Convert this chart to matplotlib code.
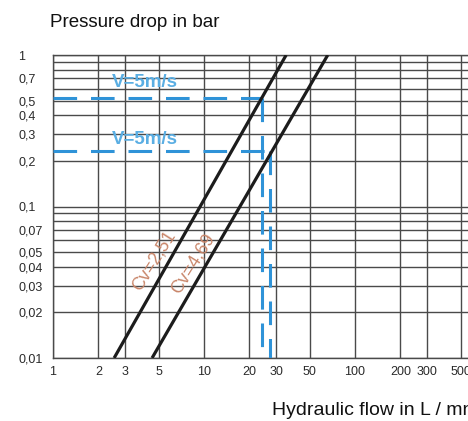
import matplotlib
matplotlib.use("Agg")
import matplotlib.pyplot as plt
import numpy as np

plt.rcParams['font.family'] = ['Liberation Sans', 'DejaVu Sans']
plt.rcParams['lines.scale_dashes'] = False

# Data
cv_labels = ["Cv=2,51", "Cv=4,69"]
cv_flow = [[2.54, 35.0], [4.53, 66.0]]          # L/mn at the two ends
cv_dp = [[0.01, 1.0], [0.01, 1.0]]              # bar
cv_label_pos = [(4.7, 0.044), (8.4, 0.042)]

v_label = "V=5m/s"
v_dp = [0.52, 0.233]      # bar (horizontal dashed)
v_flow = [24.2, 27.4]     # L/mn (vertical dashed)
v_label_pos = [(2.45, 0.66), (2.45, 0.275)]

x_ticks = [1, 2, 3, 5, 10, 20, 30, 50, 100, 200, 300, 500]
x_ticklabels = ["1", "2", "3", "5", "10", "20", "30", "50", "100", "200", "300", "500"]
y_labeled = [1, 0.7, 0.5, 0.4, 0.3, 0.2, 0.1, 0.07, 0.05, 0.04, 0.03, 0.02, 0.01]
y_labeled_txt = ["1", "0,7", "0,5", "0,4", "0,3", "0,2", "0,1", "0,07", "0,05", "0,04", "0,03", "0,02", "0,01"]

fig = plt.figure(figsize=(4.68, 4.21), dpi=100)
ax = fig.add_axes([53/468, 63/421, 1 - 53/468, 303/421])
ax.set_xscale('log')
ax.set_yscale('log')
ax.set_xlim(1, 560)
ax.set_ylim(0.01, 1)

grid_c = '#4a4a4a'
# y grid at every 1..9 multiple
y_all = sorted(set([round(m * 10.0**e, 4) for e in (-2, -1) for m in range(1, 10)] + [1.0]))
ax.set_yticks(y_all)
lbl_map = dict(zip([round(v, 4) for v in y_labeled], y_labeled_txt))
ax.set_yticklabels([lbl_map.get(round(v, 4), "") for v in y_all])
ax.yaxis.set_minor_locator(matplotlib.ticker.NullLocator())
ax.set_xticks(x_ticks)
ax.set_xticklabels(x_ticklabels)
ax.xaxis.set_minor_locator(matplotlib.ticker.NullLocator())

ax.grid(True, which='major', color=grid_c, linewidth=1.0)
ax.tick_params(axis='both', length=0, labelsize=9, colors='#2a2a2a')
ax.tick_params(axis='y', pad=25)
for t in ax.get_yticklabels():
    t.set_horizontalalignment('left')
ax.tick_params(axis='x', pad=6)

for s in ['left', 'bottom', 'top']:
    ax.spines[s].set_color(grid_c)
    ax.spines[s].set_linewidth(1.0)
ax.spines['right'].set_visible(False)

blue = '#2f93d8'
for yh, xv in zip(v_dp, v_flow):
    ax.plot([1, xv], [yh, yh], color=blue, lw=2.2, dashes=(17, 10), zorder=3, dash_capstyle='butt')
    ax.plot([xv, xv], [yh, 0.01], color=blue, lw=2.2, dashes=(17, 10), zorder=3, dash_capstyle='butt')
for (xp, yp) in v_label_pos:
    ax.text(xp, yp, v_label, color='#5aaee3', fontsize=13.5, fontweight='bold', ha='left', va='center', zorder=4)

for f, d in zip(cv_flow, cv_dp):
    ax.plot(f, d, color='#1c1c1c', lw=2.3, zorder=5, solid_capstyle='butt')
brown = '#c9866a'
for lab, (xp, yp) in zip(cv_labels, cv_label_pos):
    ax.text(xp, yp, lab, color=brown, fontsize=13, rotation=58, ha='center', va='center', zorder=4)

fig.text(50/468, 1 - 27/421, "Pressure drop in bar", fontsize=13.5, ha='left', va='baseline', color='#111111')
fig.text(272/468, 1 - 415/421, "Hydraulic flow in L / mn", fontsize=14, ha='left', va='baseline', color='#111111')

fig.savefig("out.png", dpi=100)
